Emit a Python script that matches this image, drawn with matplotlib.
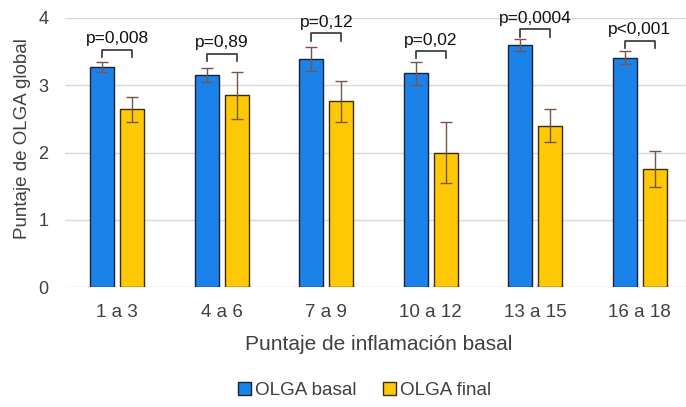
import matplotlib
matplotlib.use("Agg")
import matplotlib.pyplot as plt
import numpy as np
from matplotlib.patches import Patch

plt.rcParams['font.family'] = ['Liberation Sans', 'DejaVu Sans']

categories = ["1 a 3", "4 a 6", "7 a 9", "10 a 12", "13 a 15", "16 a 18"]
basal = [3.27, 3.15, 3.39, 3.18, 3.60, 3.41]
basal_err = [0.08, 0.10, 0.18, 0.17, 0.09, 0.10]
final = [2.64, 2.85, 2.76, 2.00, 2.40, 1.75]
final_err = [0.19, 0.35, 0.31, 0.45, 0.25, 0.27]
pvalues = ["p=0,008", "p=0,89", "p=0,12", "p=0,02", "p=0,0004", "p<0,001"]
bracket_top = [3.53, 3.47, 3.77, 3.51, 3.83, 3.66]

fig = plt.figure(figsize=(6.86, 4.07), dpi=100)
ax = fig.add_axes([0.0948, 0.2948, 0.914, 0.661])

x = np.arange(len(categories))
w = 0.23
off = 0.143
blue = '#1b82ea'
yellow = '#ffc805'
ecol = '#7a5448'

ax.bar(x - off, basal, w, color=blue, edgecolor='#1a2233', linewidth=1.0, zorder=3, label='OLGA basal')
ax.bar(x + off, final, w, color=yellow, edgecolor='#3a2a10', linewidth=1.0, zorder=3, label='OLGA final')
ax.errorbar(x - off, basal, yerr=basal_err, fmt='none', ecolor=ecol, elinewidth=1.0, capsize=4, capthick=1.0, zorder=4)
ax.errorbar(x + off, final, yerr=final_err, fmt='none', ecolor=ecol, elinewidth=1.0, capsize=4, capthick=1.0, zorder=4)

for i in range(len(categories)):
    top = bracket_top[i]
    leg = 0.11
    ax.plot([x[i] - off, x[i] - off, x[i] + off, x[i] + off],
            [top - leg, top, top, top - leg], color='#333333', lw=1.2, zorder=5)
    ax.text(x[i], top + 0.05, pvalues[i], ha='center', va='bottom', fontsize=12.5, color='#111111')

ax.set_xlim(-0.5, len(categories) - 0.5)
ax.set_ylim(0, 4)
ax.set_yticks([0, 1, 2, 3, 4])
ax.set_xticks(x)
ax.set_xticklabels(categories)
ax.grid(axis='y', color='#d9d9d9', linewidth=1.0, zorder=0)
ax.set_axisbelow(True)
for s in ax.spines.values():
    s.set_visible(False)
ax.tick_params(axis='y', length=0, labelsize=13, colors='#404040', pad=12)
ax.tick_params(axis='x', length=0, labelsize=13.5, colors='#404040', pad=12)
ax.set_ylabel('Puntaje de OLGA global', fontsize=13.5, color='#404040')
ax.yaxis.set_label_coords(-0.055, 0.55)
ax.set_xlabel('Puntaje de inflamación basal', fontsize=15, color='#404040', labelpad=10)

handles = [Patch(facecolor=blue, edgecolor='#1a2233', label='OLGA basal'),
           Patch(facecolor=yellow, edgecolor='#3a2a10', label='OLGA final')]
leg = fig.legend(handles=handles, loc='center', bbox_to_anchor=(0.532, 0.040), ncol=2, frameon=False,
                 fontsize=13.6, handlelength=0.65, handleheight=0.65, handletextpad=0.25, columnspacing=1.4)
for t in leg.get_texts():
    t.set_color('#404040')

fig.savefig('out.png', dpi=100)
